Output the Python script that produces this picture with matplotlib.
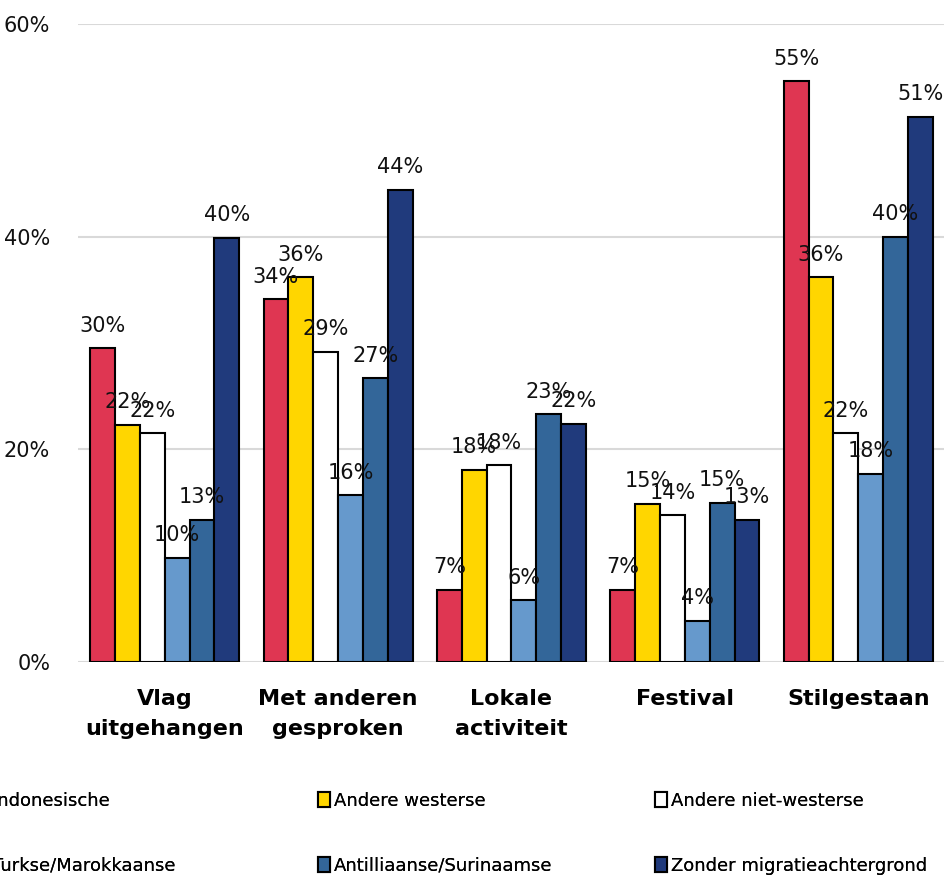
import matplotlib
matplotlib.use("Agg")
import matplotlib.pyplot as plt
import numpy as np

categories = ["Vlag\nuitgehangen", "Met anderen\ngesproken", "Lokale\nactiviteit", "Festival", "Stilgestaan"]
series_names = ["Indonesische", "Andere westerse", "Andere niet-westerse",
                "Turkse/Marokkaanse", "Antilliaanse/Surinaamse", "Zonder migratieachtergrond"]
indonesische = [29.5, 34.1, 6.8, 6.8, 54.6]
andere_westerse = [22.3, 36.2, 18.1, 14.9, 36.2]
andere_niet_westerse = [21.5, 29.2, 18.5, 13.8, 21.5]
turkse_marokkaanse = [9.8, 15.7, 5.8, 3.9, 17.7]
antilliaanse_surinaamse = [13.4, 26.7, 23.3, 15.0, 40.0]
zonder_migratie = [39.9, 44.4, 22.4, 13.4, 51.3]
yticks = [0, 20, 40, 60]

values = [indonesische, andere_westerse, andere_niet_westerse,
          turkse_marokkaanse, antilliaanse_surinaamse, zonder_migratie]
colors = ["#DF3652", "#FFD600", "#FFFFFF", "#6699CC", "#336699", "#203A7C"]

W, H = 945, 877
fig = plt.figure(figsize=(W/100, H/100), dpi=100)
ax = fig.add_axes([78/W, (H-662)/H, (945-78)/W, (662-24)/H])

x = np.arange(len(categories))
bw = 0.86/6
handles = []
for i, (vals, c) in enumerate(zip(values, colors)):
    pos = x - 0.43 + bw*(i+0.5)
    b = ax.bar(pos, vals, width=bw, color=c, edgecolor="black", linewidth=1.5, zorder=3)
    handles.append(b)
    for p, v in zip(pos, vals):
        ax.annotate(f"{round(v):.0f}%", (p, v), xytext=(0, 9), textcoords="offset points",
                    ha="center", va="bottom", fontsize=15, color="#111111", zorder=4)

ax.set_xlim(-0.5, len(categories)-0.5)
ax.set_ylim(0, 60)
ax.set_yticks(yticks)
ax.set_yticklabels([f"{t}%" for t in yticks], fontsize=15, color="#111111")
ax.tick_params(axis="y", length=0, pad=20)
ax.set_xticks(x)
ax.set_xticklabels(categories, fontsize=16, fontweight="bold", linespacing=1.65)
ax.tick_params(axis="x", length=0, pad=19.5)
for s in ax.spines.values():
    s.set_visible(False)
ax.grid(axis="y", color="#D9D9D9", linewidth=1.5, zorder=0)
ax.set_axisbelow(True)

col_x = [-24, 318, 655]
for ci in range(3):
    hs = [handles[ci], handles[ci+3]]
    ls = [series_names[ci], series_names[ci+3]]
    leg = fig.legend(hs, ls, loc="upper left", bbox_to_anchor=(col_x[ci]/W, (H-792)/H),
                     frameon=False, fontsize=13, handlelength=0.65, handleheight=0.9,
                     handletextpad=0.25, labelspacing=2.6, borderpad=0, borderaxespad=0)
    fig.add_artist(leg)

fig.savefig("out.png", dpi=100)
